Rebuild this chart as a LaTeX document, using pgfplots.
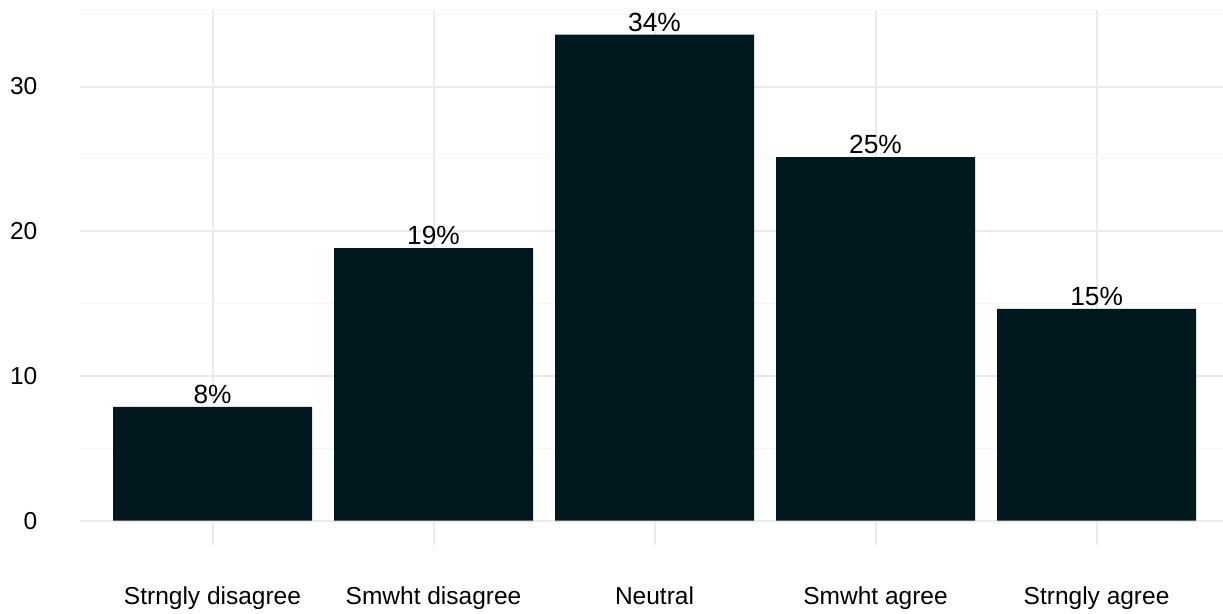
\documentclass[border=0pt]{standalone}
\usepackage{pgfplots}
\usepackage{pgfplotstable}
\pgfplotsset{compat=1.18}
\usepackage{fontspec}
\setmainfont{Liberation Sans}

\definecolor{barcol}{RGB}{2,24,31}
\definecolor{gridmaj}{RGB}{234,234,234}
\definecolor{gridmin}{RGB}{245,245,245}

% share of respondents per answer (percent)
\pgfplotstableread{
x y
1 7.86
2 18.83
3 33.59
4 25.13
5 14.63
}\answers

\begin{document}
\begin{tikzpicture}
\useasboundingbox (0pt,0pt) rectangle (611.5pt,307pt);
\begin{axis}[
  at={(39.95pt,34.5pt)}, anchor=south west,
  scale only axis, width=571.55pt, height=267.5pt,
  xmin=0.4, xmax=5.572, ymin=-1.68, ymax=35.29,
  axis line style={draw=none},
  major tick length=0pt, minor tick length=0pt,
  xtick={1,2,3,4,5},
  xticklabels={Strngly disagree, Smwht disagree, Neutral, Smwht agree, Strngly agree},
  ytick={0,10,20,30},
  minor ytick={5,15,25,35},
  xmajorgrids, ymajorgrids, yminorgrids,
  major grid style={draw=gridmaj, line width=1pt},
  minor grid style={draw=gridmin, line width=0.6pt},
  /pgf/number format/assume math mode=true,
  ticklabel style={font=\fontsize{12.25}{14}\selectfont, text=black},
  xticklabel style={anchor=base, yshift=-30pt},
  yticklabel style={anchor=east, inner sep=0pt, xshift=-21.1pt},
  ybar, bar width=99.5pt, bar shift=0pt,
  point meta=y,
  nodes near coords={\pgfmathprintnumber[fixed,precision=0]{\pgfplotspointmeta}\%},
  every node near coord/.append style={anchor=base, yshift=1.6pt, inner sep=0pt,
    font=\fontsize{13.15}{15}\selectfont, text=black},
]
\addplot[fill=barcol, draw=none] table[x=x, y=y] {\answers};
\end{axis}
\end{tikzpicture}
\end{document}
